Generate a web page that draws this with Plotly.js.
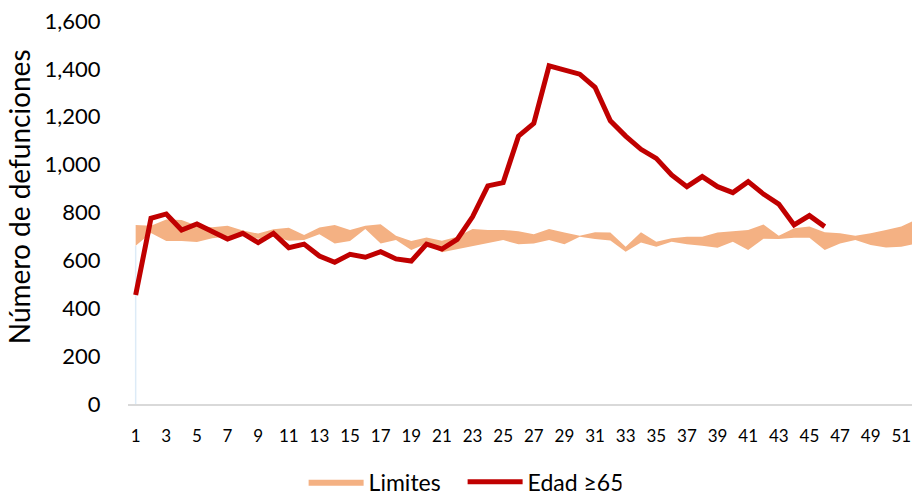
<!DOCTYPE html>
<html>
<head>
<meta charset="utf-8">
<script src="https://cdn.plot.ly/plotly-3.0.1.min.js"></script>
<style>
  html, body { margin: 0; padding: 0; background: #fff; }
  #chart { width: 912px; height: 495px; }
</style>
</head>
<body>
<div id="chart"></div>
<script>
// Semanas epidemiológicas
var semanas = [1,2,3,4,5,6,7,8,9,10,11,12,13,14,15,16,17,18,19,20,21,22,23,24,25,26,
               27,28,29,30,31,32,33,34,35,36,37,38,39,40,41,42,43,44,45,46,47,48,49,50,51,52];

// Límite inferior y superior de la banda
var limiteInferior = [661,714,681,681,677,692,700,705,690,699,682,685,709,671,681,731,671,685,643,670,
                      634,647,661,671,685,667,671,685,667,699,689,683,636,675,657,678,667,661,653,678,
                      643,690,689,695,695,643,671,685,664,654,657,670];
var limiteSuperior = [748,745,771,769,745,738,745,725,712,730,736,706,737,748,727,745,751,703,681,696,
                      682,699,731,727,727,722,709,731,716,703,717,716,657,717,678,692,699,699,716,720,
                      727,750,703,734,741,717,713,703,713,727,741,772];

// Defunciones, edad >= 65 (semanas 1-46)
var semanasEdad = semanas.slice(0, 46);
var edad65 = [455,776,794,727,752,720,689,713,674,713,653,668,618,592,625,613,636,606,597,668,
              647,688,782,911,925,1119,1172,1413,1398,1378,1323,1183,1119,1064,1026,957,908,950,908,883,
              929,877,835,748,787,741];

var yTicks = [0,200,400,600,800,1000,1200,1400,1600];
var yTitle = 'Número de defunciones';

var FONT = 'Lato, "Open Sans", sans-serif';

var traces = [
  {
    x: [semanas[0], semanas[0]],
    y: [0, limiteInferior[0]],
    type: 'scatter', mode: 'lines',
    line: {color: '#DDEBF7', width: 1.5},
    showlegend: false, hoverinfo: 'skip'
  },
  {
    x: semanas, y: limiteInferior,
    type: 'scatter', mode: 'lines',
    line: {width: 0, color: 'rgba(0,0,0,0)'},
    showlegend: false, hoverinfo: 'skip'
  },
  {
    x: semanas, y: limiteSuperior,
    type: 'scatter', mode: 'lines',
    fill: 'tonexty', fillcolor: '#F4B183',
    line: {width: 0, color: '#F4B183'},
    name: 'Limites'
  },
  {
    x: semanasEdad, y: edad65,
    type: 'scatter', mode: 'lines',
    line: {color: '#C00000', width: 5},
    name: 'Edad ≥65'
  }
];

var layout = {
  width: 912, height: 495,
  margin: {l: 128, r: 0, t: 21, b: 91, autoexpand: false},
  paper_bgcolor: '#fff', plot_bgcolor: '#fff',
  font: {family: FONT, color: '#000'},
  showlegend: true,
  legend: {
    orientation: 'h',
    x: 0.224, xanchor: 'left',
    y: -0.203, yanchor: 'middle',
    font: {size: 23, family: FONT, color: '#000'},
    itemwidth: 55,
    entrywidth: 89, entrywidthmode: 'pixels',
    traceorder: 'normal'
  },
  annotations: [{
    text: yTitle,
    xref: 'paper', yref: 'paper',
    x: -0.139, y: 0.54,
    xanchor: 'center', yanchor: 'middle',
    textangle: -90, showarrow: false,
    font: {size: 28, family: FONT, color: '#000'}
  }],
  xaxis: {
    range: [0.5, 51.7],
    tickmode: 'linear', tick0: 1, dtick: 2,
    showgrid: false, zeroline: false,
    showline: true, linecolor: '#D9D9D9', linewidth: 1.5,
    ticks: 'outside', ticklen: 16, tickcolor: 'rgba(0,0,0,0)',
    tickfont: {size: 17, family: FONT, color: '#000'}
  },
  yaxis: {
    range: [0, 1600],
    tickmode: 'array', tickvals: yTicks,
    tickformat: ',',
    showgrid: false, zeroline: false, showline: false,
    ticks: 'outside', ticklen: 22, tickcolor: 'rgba(0,0,0,0)',
    tickfont: {size: 22, family: FONT, color: '#000'}
  }
};

Plotly.newPlot('chart', traces, layout, {displayModeBar: false, staticPlot: true});
</script>
</body>
</html>
